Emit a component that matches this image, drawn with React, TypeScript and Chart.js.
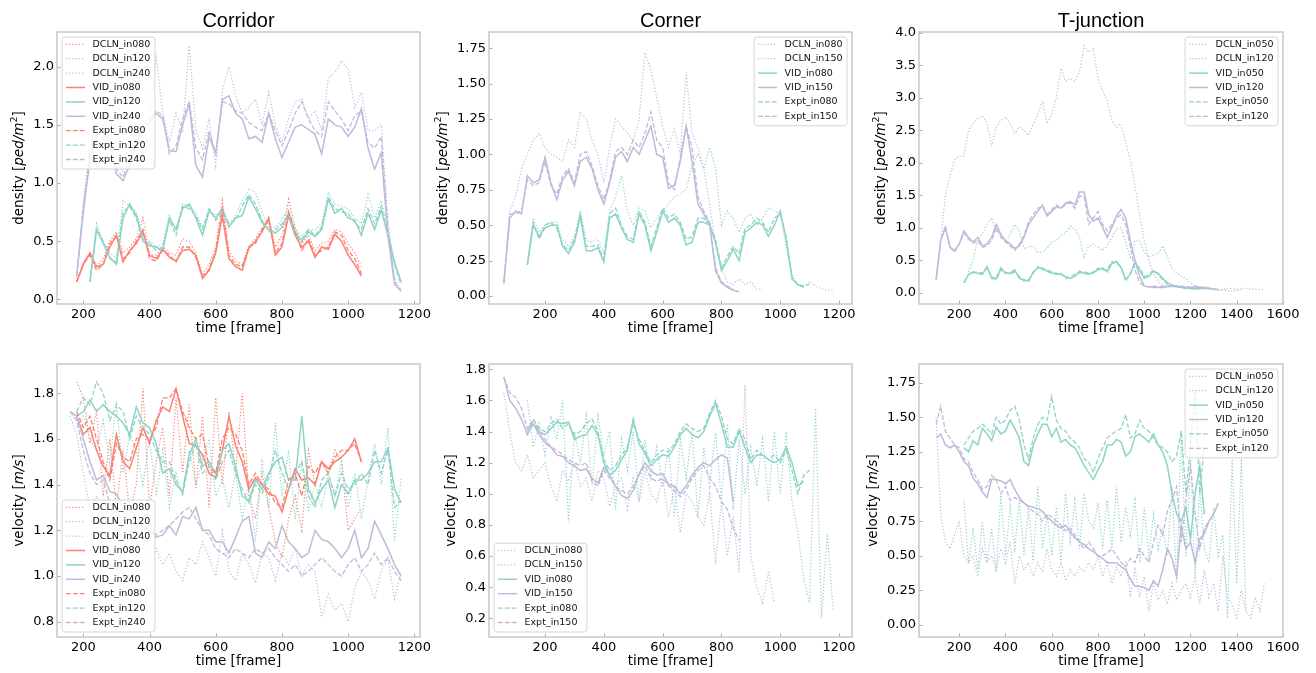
import React, { useEffect, useRef } from 'react';
import { Chart, registerables } from 'chart.js';
Chart.register(...registerables);

const _ = null;
const SALMON = '#fb8072';
const TEAL = '#8dd3c7';
const LAV = '#bebada';

// ---------- frames (x values) ----------
const corridorFrames = [160, 180, 200, 220, 240, 260, 280, 300, 320, 340, 360, 380, 400, 420, 440, 460, 480, 500, 520, 540, 560, 580, 600, 620, 640, 660, 680, 700, 720, 740, 760, 780, 800, 820, 840, 860, 880, 900, 920, 940, 960, 980, 1000, 1020, 1040, 1060, 1080, 1100, 1120, 1140, 1160];
const cornerFrames = [60, 80, 100, 120, 140, 160, 180, 200, 220, 240, 260, 280, 300, 320, 340, 360, 380, 400, 420, 440, 460, 480, 500, 520, 540, 560, 580, 600, 620, 640, 660, 680, 700, 720, 740, 760, 780, 800, 820, 840, 860, 880, 900, 920, 940, 960, 980, 1000, 1020, 1040, 1060, 1080, 1100, 1120, 1140, 1160, 1180, 1200];
const tjFrames = [80, 100, 120, 140, 160, 180, 200, 220, 240, 260, 280, 300, 320, 340, 360, 380, 400, 420, 440, 460, 480, 500, 520, 540, 560, 580, 600, 620, 640, 660, 680, 700, 720, 740, 760, 780, 800, 820, 840, 860, 880, 900, 920, 940, 960, 980, 1000, 1020, 1040, 1060, 1080, 1100, 1120, 1140, 1160, 1180, 1200, 1220, 1240, 1260, 1280, 1300, 1320, 1340, 1360, 1380, 1400, 1420, 1440, 1460, 1480, 1500, 1520];

// ---------- tick values ----------
const xTicksShort = [200, 400, 600, 800, 1000, 1200];
const xTicksLong = [200, 400, 600, 800, 1000, 1200, 1400, 1600];
const yTicksCorrDens = [0, 0.5, 1.0, 1.5, 2.0];
const yTicksCornDens = [0, 0.25, 0.5, 0.75, 1.0, 1.25, 1.5, 1.75];
const yTicksTjDens = [0, 0.5, 1.0, 1.5, 2.0, 2.5, 3.0, 3.5, 4.0];
const yTicksCorrVel = [0.8, 1.0, 1.2, 1.4, 1.6, 1.8];
const yTicksCornVel = [0.2, 0.4, 0.6, 0.8, 1.0, 1.2, 1.4, 1.6, 1.8];
const yTicksTjVel = [0, 0.25, 0.5, 0.75, 1.0, 1.25, 1.5, 1.75];

// ---------- Corridor density ----------
const corrDensDCLN080 = [_, 0.15, 0.32, 0.4, 0.28, 0.35, 0.5, 0.58, 0.4, 0.45, 0.52, 0.7, 0.38, 0.38, 0.45, 0.4, 0.38, 0.52, 0.5, 0.4, 0.22, 0.3, 0.45, 0.85, 0.42, 0.33, 0.3, 0.46, 0.52, 0.62, 0.7, 0.45, 0.55, 0.86, 0.62, 0.48, 0.55, 0.42, 0.48, 0.5, 0.6, 0.58, 0.48, 0.4, 0.28, _, _, _, _, _, _];
const corrDensDCLN120 = [_, _, _, 0.15, 0.65, 0.5, 0.4, 0.35, 0.85, 0.8, 0.75, 0.55, 0.5, 0.45, 0.48, 0.72, 0.6, 0.82, 0.8, 0.75, 0.62, 0.78, 0.72, 0.78, 0.65, 0.72, 0.85, 0.95, 0.92, 0.75, 0.62, 0.62, 0.68, 0.78, 0.6, 0.55, 0.6, 0.6, 0.65, 0.92, 0.82, 0.8, 0.78, 0.7, 0.65, 0.9, 0.7, 0.85, 0.6, 0.32, 0.14];
const corrDensDCLN240 = [_, 0.18, 0.85, 1.3, 1.5, 1.55, 1.4, 1.15, 1.1, 1.25, 1.45, 1.55, 1.6, 2.08, 1.6, 1.35, 1.6, 1.45, 2.18, 1.45, 1.3, 1.55, 1.15, 1.8, 2.0, 1.75, 1.6, 1.65, 1.72, 1.5, 1.78, 1.5, 1.35, 1.55, 1.7, 1.72, 1.55, 1.62, 1.45, 1.9, 1.95, 2.05, 1.98, 1.65, 1.78, 1.45, 1.45, 1.5, 0.7, 0.18, 0.08];
const corrDensVID080 = [_, 0.15, 0.3, 0.4, 0.28, 0.3, 0.45, 0.55, 0.32, 0.42, 0.48, 0.58, 0.38, 0.35, 0.43, 0.36, 0.33, 0.42, 0.43, 0.38, 0.18, 0.25, 0.4, 0.72, 0.35, 0.28, 0.25, 0.44, 0.5, 0.58, 0.7, 0.38, 0.45, 0.72, 0.55, 0.45, 0.5, 0.36, 0.45, 0.43, 0.56, 0.5, 0.38, 0.3, 0.2, _, _, _, _, _, _];
const corrDensVID120 = [_, _, _, 0.15, 0.6, 0.48, 0.36, 0.3, 0.7, 0.82, 0.72, 0.5, 0.46, 0.45, 0.42, 0.7, 0.6, 0.78, 0.82, 0.7, 0.55, 0.76, 0.7, 0.78, 0.62, 0.7, 0.72, 0.88, 0.78, 0.66, 0.6, 0.57, 0.62, 0.74, 0.58, 0.5, 0.58, 0.54, 0.6, 0.86, 0.74, 0.78, 0.7, 0.68, 0.55, 0.74, 0.6, 0.77, 0.55, 0.32, 0.15];
const corrDensVID240 = [_, 0.2, 0.75, 1.2, 1.4, 1.45, 1.3, 1.08, 1.02, 1.15, 1.35, 1.45, 1.52, 1.6, 1.55, 1.28, 1.27, 1.5, 1.68, 1.15, 1.05, 1.4, 1.25, 1.72, 1.75, 1.6, 1.55, 1.38, 1.4, 1.35, 1.6, 1.38, 1.22, 1.35, 1.48, 1.5, 1.46, 1.42, 1.25, 1.55, 1.5, 1.48, 1.4, 1.48, 1.64, 1.3, 1.12, 1.26, 0.55, 0.13, 0.07];
const corrDensExpt080 = [_, 0.15, 0.3, 0.38, 0.25, 0.3, 0.48, 0.55, 0.35, 0.4, 0.5, 0.6, 0.35, 0.33, 0.42, 0.38, 0.32, 0.45, 0.45, 0.36, 0.2, 0.26, 0.42, 0.78, 0.38, 0.3, 0.28, 0.45, 0.48, 0.6, 0.68, 0.4, 0.48, 0.75, 0.58, 0.42, 0.52, 0.38, 0.42, 0.45, 0.58, 0.55, 0.42, 0.35, 0.22, _, _, _, _, _, _];
const corrDensExpt120 = [_, _, _, 0.15, 0.6, 0.5, 0.35, 0.32, 0.75, 0.8, 0.7, 0.52, 0.48, 0.42, 0.45, 0.68, 0.55, 0.8, 0.78, 0.72, 0.6, 0.78, 0.68, 0.75, 0.65, 0.68, 0.8, 0.9, 0.82, 0.68, 0.58, 0.6, 0.65, 0.72, 0.55, 0.52, 0.6, 0.55, 0.62, 0.88, 0.78, 0.75, 0.74, 0.66, 0.6, 0.78, 0.65, 0.8, 0.55, 0.3, 0.13];
const corrDensExpt240 = [_, 0.2, 0.8, 1.25, 1.45, 1.5, 1.35, 1.12, 1.05, 1.2, 1.4, 1.5, 1.55, 1.62, 1.58, 1.25, 1.32, 1.55, 1.7, 1.3, 1.2, 1.45, 1.25, 1.7, 1.68, 1.62, 1.6, 1.52, 1.48, 1.45, 1.6, 1.45, 1.32, 1.45, 1.6, 1.7, 1.55, 1.45, 1.4, 1.7, 1.62, 1.55, 1.45, 1.58, 1.62, 1.35, 1.3, 1.4, 0.6, 0.15, 0.07];

// ---------- Corner density ----------
const cornDensDCLN080 = [_, _, _, _, 0.22, 0.55, 0.45, 0.5, 0.52, 0.52, 0.4, 0.35, 0.42, 0.6, 0.4, 0.38, 0.4, 0.3, 0.6, 0.7, 0.85, 0.6, 0.5, 0.62, 0.6, 0.48, 0.55, 0.6, 0.65, 0.7, 0.72, 0.75, 0.92, 1.0, 0.9, 1.05, 0.9, 0.5, 0.6, 0.55, 0.45, 0.55, 0.58, 0.5, 0.55, 0.62, 0.6, 0.58, 0.35, 0.15, 0.08, 0.07, 0.1, 0.07, 0.05, 0.04, 0.04, _];
const cornDensDCLN150 = [0.1, 0.6, 0.7, 0.9, 1.0, 1.1, 1.15, 1.05, 1.0, 0.98, 0.95, 1.1, 1.05, 1.3, 1.25, 1.1, 1.0, 0.8, 1.05, 1.25, 1.2, 1.15, 1.1, 1.25, 1.72, 1.6, 1.4, 1.2, 1.05, 1.18, 1.0, 1.58, 1.15, 1.05, 0.9, 0.65, 0.35, 0.2, 0.1, 0.08, 0.12, 0.08, 0.1, 0.05, 0.04, _, _, _, _, _, _, _, _, _, _, _, _, _];
const cornDensVID080 = [_, _, _, _, 0.22, 0.5, 0.42, 0.48, 0.5, 0.5, 0.35, 0.3, 0.38, 0.56, 0.32, 0.32, 0.34, 0.24, 0.55, 0.58, 0.48, 0.4, 0.38, 0.58, 0.5, 0.32, 0.45, 0.6, 0.52, 0.55, 0.5, 0.36, 0.38, 0.52, 0.52, 0.5, 0.38, 0.18, 0.25, 0.33, 0.25, 0.45, 0.48, 0.52, 0.5, 0.42, 0.5, 0.6, 0.4, 0.12, 0.08, 0.06, _, _, _, _, _, _];
const cornDensVID150 = [0.09, 0.55, 0.6, 0.58, 0.85, 0.8, 0.82, 0.98, 0.8, 0.68, 0.82, 0.88, 0.78, 0.95, 0.98, 0.9, 0.75, 0.65, 0.8, 0.98, 1.02, 0.95, 1.05, 1.0, 1.1, 1.2, 1.0, 0.98, 0.76, 0.78, 0.95, 1.2, 0.95, 0.65, 0.58, 0.5, 0.18, 0.09, 0.06, 0.04, 0.03, _, _, _, _, _, _, _, _, _, _, _, _, _, _, _, _, _];
const cornDensExpt080 = [_, _, _, _, 0.22, 0.52, 0.4, 0.5, 0.52, 0.48, 0.36, 0.32, 0.4, 0.58, 0.35, 0.35, 0.36, 0.26, 0.58, 0.62, 0.5, 0.42, 0.4, 0.6, 0.52, 0.35, 0.48, 0.62, 0.55, 0.58, 0.52, 0.4, 0.42, 0.55, 0.55, 0.5, 0.4, 0.2, 0.28, 0.35, 0.3, 0.48, 0.5, 0.55, 0.52, 0.45, 0.55, 0.58, 0.42, 0.13, 0.08, 0.07, 0.08, _, _, _, _, _];
const cornDensExpt150 = [0.09, 0.58, 0.58, 0.6, 0.82, 0.78, 0.8, 0.95, 0.78, 0.72, 0.85, 0.9, 0.8, 1.0, 1.02, 0.92, 0.78, 0.68, 0.82, 1.02, 1.05, 1.0, 1.1, 1.05, 1.15, 1.3, 1.1, 1.05, 0.8, 0.75, 0.98, 1.2, 1.05, 0.7, 0.6, 0.52, 0.2, 0.1, 0.07, 0.05, _, _, _, _, _, _, _, _, _, _, _, _, _, _, _, _, _, _];

// ---------- T-junction density ----------
const tjDensDCLN050 = [_, _, _, _, _, _, _, _, 0.32, 0.5, 0.82, 0.9, 1.05, 1.15, 0.95, 0.9, 0.78, 0.9, 1.05, 0.95, 0.68, 0.7, 0.72, 0.62, 0.62, 0.68, 0.78, 0.8, 0.88, 0.92, 1.02, 0.98, 0.85, 0.55, 0.72, 0.75, 0.7, 0.65, 0.72, 0.85, 0.98, 1.0, 0.78, 0.52, 0.8, 0.8, 0.62, 0.55, 0.58, 0.6, 0.72, 0.55, 0.38, 0.3, 0.25, 0.22, 0.15, 0.1, 0.08, 0.07, 0.06, 0.05, 0.04, 0.04, 0.03, 0.02, 0.04, 0.04, _, _, _, _, _];
const tjDensDCLN120 = [_, 0.2, 0.8, 1.5, 1.8, 2.05, 2.1, 2.1, 2.5, 2.6, 2.68, 2.72, 2.6, 2.25, 2.55, 2.65, 2.7, 2.6, 2.45, 2.55, 2.5, 2.42, 2.6, 2.75, 2.95, 2.6, 2.75, 3.0, 3.45, 3.25, 3.3, 3.25, 3.4, 3.8, 3.7, 3.75, 3.3, 3.1, 2.95, 2.65, 2.55, 2.6, 2.3, 2.05, 1.65, 1.2, 0.8, 0.5, 0.3, 0.18, 0.12, 0.1, 0.09, 0.08, 0.09, 0.1, 0.08, 0.07, 0.09, 0.1, 0.07, 0.05, 0.04, 0.05, 0.07, 0.06, 0.05, 0.06, 0.07, 0.05, 0.06, 0.05, 0.05];
const tjDensVID050 = [_, _, _, _, _, _, _, 0.15, 0.28, 0.32, 0.3, 0.28, 0.4, 0.22, 0.22, 0.38, 0.3, 0.3, 0.35, 0.22, 0.2, 0.18, 0.32, 0.38, 0.38, 0.33, 0.3, 0.3, 0.28, 0.25, 0.22, 0.25, 0.33, 0.3, 0.28, 0.32, 0.35, 0.38, 0.32, 0.45, 0.48, 0.38, 0.2, 0.28, 0.48, 0.35, 0.22, 0.25, 0.33, 0.3, 0.22, 0.15, 0.12, 0.1, 0.08, 0.07, 0.07, 0.06, 0.06, 0.07, 0.07, _, _, _, _, _, _, _, _, _, _, _, _];
const tjDensVID120 = [_, 0.2, 0.8, 1.0, 0.7, 0.65, 0.75, 0.95, 0.85, 0.78, 0.85, 0.72, 0.75, 0.85, 1.05, 0.9, 0.8, 0.75, 0.68, 0.72, 0.85, 1.05, 1.15, 1.25, 1.35, 1.18, 1.25, 1.32, 1.3, 1.38, 1.4, 1.35, 1.55, 1.55, 1.2, 1.1, 1.15, 1.0, 0.85, 1.0, 1.18, 1.28, 1.15, 0.8, 0.5, 0.25, 0.1, 0.09, 0.08, 0.08, 0.08, 0.09, 0.1, 0.1, 0.09, 0.08, 0.08, 0.09, 0.08, 0.07, 0.07, 0.06, 0.05, _, _, _, _, _, _, _, _, _, _];
const tjDensExpt050 = [_, _, _, _, _, _, _, 0.15, 0.28, 0.3, 0.32, 0.3, 0.38, 0.25, 0.2, 0.35, 0.32, 0.28, 0.32, 0.25, 0.18, 0.2, 0.3, 0.4, 0.35, 0.35, 0.32, 0.28, 0.3, 0.22, 0.25, 0.28, 0.3, 0.32, 0.3, 0.3, 0.38, 0.35, 0.35, 0.48, 0.45, 0.4, 0.18, 0.3, 0.45, 0.38, 0.25, 0.28, 0.35, 0.28, 0.2, 0.13, 0.1, 0.09, 0.08, 0.07, 0.06, 0.06, 0.07, 0.06, 0.07, _, _, _, _, _, _, _, _, _, _, _, _];
const tjDensExpt120 = [_, 0.2, 0.82, 1.02, 0.7, 0.62, 0.75, 0.92, 0.82, 0.76, 0.8, 0.7, 0.72, 0.8, 1.0, 0.85, 0.78, 0.72, 0.65, 0.75, 0.88, 1.1, 1.2, 1.3, 1.32, 1.2, 1.28, 1.35, 1.3, 1.35, 1.38, 1.3, 1.48, 1.48, 1.05, 1.15, 1.25, 1.05, 0.95, 1.05, 1.15, 1.2, 1.05, 0.7, 0.35, 0.15, 0.1, 0.09, 0.1, 0.09, 0.1, 0.1, 0.11, 0.1, 0.1, 0.09, 0.08, 0.1, 0.09, 0.07, 0.06, 0.06, _, _, _, _, _, _, _, _, _, _, _];

// ---------- Corridor velocity ----------
const corrVelDCLN080 = [_, 1.85, 1.78, 1.58, 1.72, 1.35, 1.6, 1.3, 1.55, 1.28, 1.4, 1.82, 1.3, 1.5, 1.65, 1.35, 1.78, 1.45, 1.75, 1.38, 1.7, 1.3, 1.78, 1.4, 1.72, 1.45, 1.8, 1.35, 1.25, 1.45, 1.3, 1.15, 1.08, 1.25, 1.35, 1.2, 1.55, 1.4, 1.5, 1.45, 1.55, 1.5, 1.2, 1.25, 1.3, _, _, _, _, _, _];
const corrVelDCLN120 = [_, 1.65, 1.7, 1.6, 1.55, 1.68, 1.5, 1.75, 1.45, 1.62, 1.55, 1.4, 1.6, 1.35, 1.55, 1.3, 1.45, 1.35, 1.55, 1.4, 1.5, 1.6, 1.35, 1.42, 1.3, 1.45, 1.25, 1.4, 1.15, 1.5, 1.3, 1.67, 1.35, 1.55, 1.25, 1.5, 1.28, 1.4, 1.3, 1.45, 1.35, 1.5, 1.3, 1.45, 1.25, 1.42, 1.58, 1.4, 1.65, 1.15, 1.43];
const corrVelDCLN240 = [1.7, 1.62, 1.45, 1.3, 1.35, 1.25, 1.3, 1.2, 1.15, 1.2, 1.1, 1.15, 1.02, 1.12, 1.05, 1.1, 1.02, 0.98, 1.08, 1.05, 1.15, 1.08, 1.0, 1.2, 1.02, 0.98, 1.1, 1.05, 0.97, 1.1, 1.08, 0.98, 1.1, 1.05, 1.12, 1.0, 1.05, 1.02, 0.82, 0.92, 0.85, 0.88, 0.8, 0.95, 1.02, 0.98, 0.9, 1.02, 1.08, 0.9, 1.02];
const corrVelVID080 = [_, 1.7, 1.62, 1.65, 1.55, 1.48, 1.44, 1.62, 1.5, 1.47, 1.56, 1.65, 1.58, 1.68, 1.74, 1.72, 1.82, 1.7, 1.58, 1.57, 1.53, 1.45, 1.43, 1.55, 1.7, 1.57, 1.5, 1.38, 1.43, 1.4, 1.36, 1.35, 1.28, 1.38, 1.47, 1.42, 1.43, 1.4, 1.5, 1.47, 1.5, 1.52, 1.55, 1.6, 1.5, _, _, _, _, _, _];
const corrVelVID120 = [_, 1.7, 1.72, 1.77, 1.72, 1.75, 1.72, 1.7, 1.67, 1.62, 1.74, 1.67, 1.65, 1.58, 1.45, 1.47, 1.4, 1.37, 1.53, 1.6, 1.48, 1.5, 1.45, 1.55, 1.58, 1.48, 1.35, 1.33, 1.42, 1.38, 1.45, 1.5, 1.52, 1.42, 1.42, 1.7, 1.38, 1.32, 1.38, 1.42, 1.3, 1.4, 1.36, 1.42, 1.42, 1.45, 1.5, 1.5, 1.56, 1.38, 1.32];
const corrVelVID240 = [1.72, 1.7, 1.6, 1.5, 1.42, 1.44, 1.37, 1.36, 1.3, 1.3, 1.25, 1.22, 1.2, 1.17, 1.18, 1.22, 1.18, 1.26, 1.25, 1.3, 1.2, 1.2, 1.15, 1.15, 1.1, 1.17, 1.24, 1.26, 1.1, 1.08, 1.15, 1.12, 1.22, 1.15, 1.12, 1.08, 1.1, 1.2, 1.16, 1.15, 1.12, 1.08, 1.12, 1.2, 1.08, 1.12, 1.24, 1.18, 1.12, 1.05, 1.0];
const corrVelExpt080 = [_, 1.72, 1.65, 1.7, 1.6, 1.5, 1.42, 1.58, 1.52, 1.5, 1.6, 1.62, 1.6, 1.65, 1.78, 1.78, 1.82, 1.72, 1.65, 1.6, 1.62, 1.48, 1.45, 1.6, 1.65, 1.62, 1.55, 1.4, 1.45, 1.4, 1.38, 1.32, 1.3, 1.42, 1.45, 1.35, 1.48, 1.45, 1.5, 1.45, 1.52, 1.55, 1.55, 1.58, 1.5, _, _, _, _, _, _];
const corrVelExpt120 = [_, 1.72, 1.78, 1.75, 1.85, 1.8, 1.68, 1.75, 1.72, 1.6, 1.7, 1.65, 1.62, 1.55, 1.5, 1.5, 1.42, 1.36, 1.5, 1.58, 1.45, 1.48, 1.42, 1.5, 1.55, 1.45, 1.38, 1.32, 1.4, 1.36, 1.43, 1.55, 1.45, 1.38, 1.45, 1.5, 1.35, 1.3, 1.42, 1.45, 1.35, 1.45, 1.38, 1.4, 1.45, 1.4, 1.55, 1.45, 1.55, 1.3, 1.33];
const corrVelExpt240 = [1.72, 1.68, 1.55, 1.45, 1.4, 1.42, 1.32, 1.3, 1.28, 1.25, 1.22, 1.2, 1.2, 1.18, 1.2, 1.22, 1.25, 1.28, 1.3, 1.25, 1.2, 1.18, 1.12, 1.1, 1.08, 1.12, 1.1, 1.08, 1.12, 1.1, 1.12, 1.08, 1.05, 1.02, 1.05, 1.0, 1.02, 1.05, 1.08, 1.05, 1.02, 1.0, 1.05, 1.08, 1.02, 1.05, 1.1, 1.05, 1.08, 1.02, 0.98];

// ---------- Corner velocity ----------
const cornVelDCLN080 = [_, _, _, _, 1.6, 1.3, 1.45, 1.25, 1.5, 1.35, 1.6, 0.82, 1.4, 1.2, 1.5, 1.05, 1.5, 1.25, 1.4, 0.9, 1.35, 1.15, 1.4, 0.95, 1.35, 1.1, 1.3, 1.05, 1.3, 0.85, 1.35, 1.1, 1.4, 0.85, 1.3, 1.05, 1.4, 0.95, 1.45, 0.9, 1.35, 1.0, 1.3, 1.05, 1.35, 0.95, 1.4, 1.0, 1.4, 0.95, 0.75, 0.45, 0.3, 1.55, 0.2, 0.75, 0.25, _];
const cornVelDCLN150 = [1.65, 1.4, 1.2, 1.15, 1.25, 1.1, 1.15, 1.2, 1.05, 0.95, 1.15, 1.08, 1.2, 1.05, 1.1, 0.95, 1.15, 1.1, 0.92, 1.05, 1.1, 0.9, 1.1, 0.95, 1.15, 1.0, 0.95, 1.1, 0.85, 1.05, 0.75, 1.0, 0.95, 0.85, 0.8, 1.0, 0.55, 0.95, 0.6, 0.85, 0.5, 1.7, 0.6, 0.4, 0.3, 0.5, 0.3, _, _, _, _, _, _, _, _, _, _, _];
const cornVelVID080 = [_, _, _, _, 1.42, 1.45, 1.4, 1.38, 1.42, 1.46, 1.45, 1.46, 1.35, 1.37, 1.38, 1.44, 1.38, 1.2, 1.12, 1.15, 1.22, 1.28, 1.48, 1.32, 1.26, 1.18, 1.22, 1.25, 1.24, 1.3, 1.38, 1.42, 1.38, 1.36, 1.4, 1.5, 1.58, 1.45, 1.3, 1.3, 1.4, 1.3, 1.2, 1.25, 1.25, 1.22, 1.2, 1.22, 1.3, 1.2, 1.05, 1.08, _, _, _, _, _, _];
const cornVelVID150 = [1.75, 1.6, 1.55, 1.48, 1.38, 1.45, 1.38, 1.33, 1.3, 1.25, 1.24, 1.2, 1.18, 1.15, 1.16, 1.1, 1.07, 1.17, 1.12, 1.05, 0.99, 0.97, 1.02, 1.13, 1.2, 1.15, 1.12, 1.13, 1.06, 1.05, 1.0, 1.05, 1.12, 1.17, 1.2, 1.18, 1.22, 1.25, 1.23, 0.95, _, _, _, _, _, _, _, _, _, _, _, _, _, _, _, _, _, _];
const cornVelExpt080 = [_, _, _, _, 1.4, 1.48, 1.42, 1.4, 1.45, 1.48, 1.42, 1.45, 1.38, 1.4, 1.45, 1.48, 1.4, 1.22, 1.15, 1.18, 1.25, 1.3, 1.45, 1.35, 1.28, 1.2, 1.25, 1.28, 1.27, 1.32, 1.4, 1.45, 1.42, 1.4, 1.42, 1.52, 1.6, 1.5, 1.35, 1.32, 1.42, 1.35, 1.22, 1.28, 1.25, 1.22, 1.25, 1.2, 1.28, 1.15, 1.0, 1.12, 1.15, _, _, _, _, _];
const cornVelExpt150 = [1.75, 1.65, 1.62, 1.55, 1.42, 1.48, 1.4, 1.35, 1.3, 1.28, 1.25, 1.22, 1.2, 1.18, 1.2, 1.08, 1.05, 1.15, 1.1, 1.05, 1.02, 1.0, 1.05, 1.12, 1.18, 1.1, 1.08, 1.1, 1.05, 1.02, 0.98, 1.02, 1.1, 1.15, 1.18, 1.1, 1.05, 0.95, 0.9, 0.78, 0.7, _, _, _, _, _, _, _, _, _, _, _, _, _, _, _, _, _];

// ---------- T-junction velocity ----------
const tjVelDCLN050 = [_, _, _, _, _, _, _, 0.9, 0.45, 0.7, 0.4, 0.75, 0.45, 0.7, 0.38, 0.95, 0.5, 0.85, 0.55, 0.9, 0.5, 0.85, 0.45, 1.0, 0.55, 0.8, 0.5, 0.85, 0.45, 0.95, 0.6, 0.9, 0.55, 0.95, 0.75, 0.7, 0.88, 0.55, 0.9, 0.55, 1.0, 0.6, 0.85, 0.65, 0.9, 0.45, 0.85, 0.5, 0.8, 0.55, 0.7, 0.5, 1.0, 0.3, 1.4, 0.5, 1.2, 0.35, 1.0, 0.55, 0.45, 0.85, 0.5, 0.65, 0.05, 1.2, 0.3, 1.2, 0.1, _, _, _, _];
const tjVelDCLN120 = [_, 1.5, 0.8, 0.6, 0.55, 0.65, 0.75, 0.5, 0.45, 0.5, 0.35, 0.55, 0.45, 0.5, 0.4, 0.55, 0.45, 0.6, 0.3, 0.5, 0.4, 0.45, 0.35, 0.45, 0.38, 0.55, 0.4, 0.35, 0.45, 0.32, 0.4, 0.35, 0.42, 0.38, 0.45, 0.4, 0.5, 0.35, 0.45, 0.3, 0.42, 0.35, 0.45, 0.22, 0.4, 0.2, 0.35, 0.1, 0.3, 0.18, 0.25, 0.15, 0.3, 0.18, 0.25, 0.3, 0.2, 0.35, 0.15, 0.4, 0.2, 0.3, 0.1, 0.5, 0.2, 0.15, 0.05, 0.25, 0.1, 0.05, 0.2, 0.1, 0.3];
const tjVelVID050 = [_, _, _, _, _, _, _, 1.28, 1.25, 1.33, 1.3, 1.42, 1.38, 1.33, 1.43, 1.38, 1.4, 1.48, 1.42, 1.35, 1.18, 1.15, 1.3, 1.38, 1.45, 1.45, 1.36, 1.42, 1.32, 1.34, 1.3, 1.28, 1.22, 1.15, 1.1, 1.05, 1.12, 1.18, 1.3, 1.3, 1.34, 1.32, 1.22, 1.25, 1.36, 1.38, 1.35, 1.32, 1.38, 1.3, 1.25, 1.15, 0.95, 0.8, 0.75, 0.85, 0.62, 0.95, 1.15, 0.8, _, _, _, _, _, _, _, _, _, _, _, _, _];
const tjVelVID120 = [_, 1.35, 1.38, 1.3, 1.28, 1.3, 1.25, 1.18, 1.15, 1.06, 1.02, 0.96, 0.92, 1.05, 1.05, 1.04, 1.02, 1.05, 0.98, 0.92, 0.88, 0.86, 0.85, 0.84, 0.82, 0.78, 0.75, 0.72, 0.7, 0.72, 0.67, 0.63, 0.6, 0.58, 0.55, 0.53, 0.5, 0.48, 0.45, 0.45, 0.45, 0.42, 0.4, 0.33, 0.28, 0.28, 0.27, 0.25, 0.32, 0.28, 0.4, 0.55, 0.48, 0.35, 0.72, 0.55, 0.6, 0.45, 0.62, 0.66, 0.75, 0.8, 0.88, _, _, _, _, _, _, _, _, _, _];
const tjVelExpt050 = [_, _, _, _, _, _, _, 1.3, 1.35, 1.4, 1.42, 1.45, 1.42, 1.38, 1.5, 1.45, 1.48, 1.55, 1.58, 1.48, 1.3, 1.2, 1.35, 1.45, 1.5, 1.48, 1.65, 1.48, 1.42, 1.4, 1.35, 1.32, 1.28, 1.2, 1.18, 1.1, 1.2, 1.28, 1.35, 1.38, 1.4, 1.42, 1.52, 1.35, 1.38, 1.48, 1.42, 1.4, 1.35, 1.3, 1.28, 1.25, 1.18, 1.22, 1.4, 0.95, 1.3, 1.7, 0.95, 1.3, _, _, _, _, _, _, _, _, _, _, _, _, _];
const tjVelExpt120 = [_, 1.45, 1.58, 1.4, 1.35, 1.3, 1.28, 1.2, 1.18, 1.1, 1.05, 0.98, 1.0, 1.08, 1.05, 0.95, 1.0, 0.9, 0.92, 0.9, 0.88, 0.85, 0.82, 0.8, 0.75, 0.8, 0.78, 0.75, 0.72, 0.68, 0.7, 0.65, 0.6, 0.55, 0.6, 0.55, 0.5, 0.5, 0.52, 0.55, 0.5, 0.45, 0.42, 0.48, 0.45, 0.55, 0.5, 0.45, 0.6, 0.72, 0.65, 0.82, 0.9, 1.0, 0.6, 0.9, 1.15, 0.8, 0.55, 0.7, 0.75, 0.8, _, _, _, _, _, _, _, _, _, _, _];

// ---------- panel definitions ----------
type Style = 'dot' | 'solid' | 'dash';
type Series = { label: string; values: (number | null)[]; color: string; style: Style };
type Panel = {
  title?: string;
  yKind: 'density' | 'velocity';
  frames: number[];
  series: Series[];
  canvas: [number, number, number, number];
  area: [number, number, number, number];
  xRange: [number, number];
  yRange: [number, number];
  xTicks: number[];
  yTicks: number[];
  yDec: number;
  legend: 'ul' | 'ur' | 'll';
};

const S = (label: string, values: (number | null)[], color: string, style: Style): Series => ({ label, values, color, style });

const panels: Panel[] = [
  {
    title: 'Corridor', yKind: 'density', frames: corridorFrames,
    series: [
      S('DCLN_in080', corrDensDCLN080, SALMON, 'dot'), S('DCLN_in120', corrDensDCLN120, TEAL, 'dot'), S('DCLN_in240', corrDensDCLN240, LAV, 'dot'),
      S('VID_in080', corrDensVID080, SALMON, 'solid'), S('VID_in120', corrDensVID120, TEAL, 'solid'), S('VID_in240', corrDensVID240, LAV, 'solid'),
      S('Expt_in080', corrDensExpt080, SALMON, 'dash'), S('Expt_in120', corrDensExpt120, TEAL, 'dash'), S('Expt_in240', corrDensExpt240, LAV, 'dash'),
    ],
    canvas: [0, 0, 440, 340], area: [57, 32, 420, 304], xRange: [120.5, 1217], yRange: [-0.04, 2.298],
    xTicks: xTicksShort, yTicks: yTicksCorrDens, yDec: 1, legend: 'ul',
  },
  {
    title: 'Corner', yKind: 'density', frames: cornerFrames,
    series: [
      S('DCLN_in080', cornDensDCLN080, TEAL, 'dot'), S('DCLN_in150', cornDensDCLN150, LAV, 'dot'),
      S('VID_in080', cornDensVID080, TEAL, 'solid'), S('VID_in150', cornDensVID150, LAV, 'solid'),
      S('Expt_in080', cornDensExpt080, TEAL, 'dash'), S('Expt_in150', cornDensExpt150, LAV, 'dash'),
    ],
    canvas: [428, 0, 440, 340], area: [489, 32, 852, 304], xRange: [9.5, 1244], yRange: [-0.057, 1.865],
    xTicks: xTicksShort, yTicks: yTicksCornDens, yDec: 2, legend: 'ur',
  },
  {
    title: 'T-junction', yKind: 'density', frames: tjFrames,
    series: [
      S('DCLN_in050', tjDensDCLN050, TEAL, 'dot'), S('DCLN_in120', tjDensDCLN120, LAV, 'dot'),
      S('VID_in050', tjDensVID050, TEAL, 'solid'), S('VID_in120', tjDensVID120, LAV, 'solid'),
      S('Expt_in050', tjDensExpt050, TEAL, 'dash'), S('Expt_in120', tjDensExpt120, LAV, 'dash'),
    ],
    canvas: [860, 0, 456, 340], area: [919, 32, 1283, 304], xRange: [26, 1600], yRange: [-0.174, 4.01],
    xTicks: xTicksLong, yTicks: yTicksTjDens, yDec: 1, legend: 'ur',
  },
  {
    yKind: 'velocity', frames: corridorFrames,
    series: [
      S('DCLN_in080', corrVelDCLN080, SALMON, 'dot'), S('DCLN_in120', corrVelDCLN120, TEAL, 'dot'), S('DCLN_in240', corrVelDCLN240, LAV, 'dot'),
      S('VID_in080', corrVelVID080, SALMON, 'solid'), S('VID_in120', corrVelVID120, TEAL, 'solid'), S('VID_in240', corrVelVID240, LAV, 'solid'),
      S('Expt_in080', corrVelExpt080, SALMON, 'dash'), S('Expt_in120', corrVelExpt120, TEAL, 'dash'), S('Expt_in240', corrVelExpt240, LAV, 'dash'),
    ],
    canvas: [0, 340, 440, 333], area: [57, 364, 420, 637], xRange: [120.5, 1217], yRange: [0.733, 1.928],
    xTicks: xTicksShort, yTicks: yTicksCorrVel, yDec: 1, legend: 'll',
  },
  {
    yKind: 'velocity', frames: cornerFrames,
    series: [
      S('DCLN_in080', cornVelDCLN080, TEAL, 'dot'), S('DCLN_in150', cornVelDCLN150, LAV, 'dot'),
      S('VID_in080', cornVelVID080, TEAL, 'solid'), S('VID_in150', cornVelVID150, LAV, 'solid'),
      S('Expt_in080', cornVelExpt080, TEAL, 'dash'), S('Expt_in150', cornVelExpt150, LAV, 'dash'),
    ],
    canvas: [428, 340, 440, 333], area: [489, 364, 852, 637], xRange: [9.5, 1244], yRange: [0.08, 1.834],
    xTicks: xTicksShort, yTicks: yTicksCornVel, yDec: 1, legend: 'll',
  },
  {
    yKind: 'velocity', frames: tjFrames,
    series: [
      S('DCLN_in050', tjVelDCLN050, TEAL, 'dot'), S('DCLN_in120', tjVelDCLN120, LAV, 'dot'),
      S('VID_in050', tjVelVID050, TEAL, 'solid'), S('VID_in120', tjVelVID120, LAV, 'solid'),
      S('Expt_in050', tjVelExpt050, TEAL, 'dash'), S('Expt_in120', tjVelExpt120, LAV, 'dash'),
    ],
    canvas: [860, 340, 456, 333], area: [919, 364, 1283, 637], xRange: [26, 1600], yRange: [-0.087, 1.885],
    xTicks: xTicksLong, yTicks: yTicksTjVel, yDec: 2, legend: 'ur',
  },
];

const FONT = '"DejaVu Sans", sans-serif';
const dashOf = (s: Style) => (s === 'dot' ? [1.2, 2] : s === 'dash' ? [4.8, 2.1] : []);
const widthOf = (s: Style) => (s === 'dot' ? 1.2 : s === 'dash' ? 1.3 : 1.5);

function makeDecor(p: Panel) {
  return {
    id: 'decor',
    afterDraw(chart: any) {
      const ctx: CanvasRenderingContext2D = chart.ctx;
      const a = chart.chartArea;
      const xs = chart.scales.x;
      const ys = chart.scales.y;
      ctx.save();
      // inward tick marks
      ctx.strokeStyle = '#a8a8a8';
      ctx.lineWidth = 1;
      ctx.setLineDash([]);
      p.xTicks.forEach((v) => {
        const px = Math.round(xs.getPixelForValue(v)) + 0.5;
        ctx.beginPath(); ctx.moveTo(px, a.bottom); ctx.lineTo(px, a.bottom - 3.5); ctx.stroke();
      });
      p.yTicks.forEach((v) => {
        const py = Math.round(ys.getPixelForValue(v)) + 0.5;
        ctx.beginPath(); ctx.moveTo(a.left, py); ctx.lineTo(a.left + 3.5, py); ctx.stroke();
      });
      // frame
      ctx.strokeStyle = '#c8c8c8';
      ctx.lineWidth = 1.5;
      ctx.strokeRect(a.left, a.top, a.right - a.left, a.bottom - a.top);

      const cx = (a.left + a.right) / 2;
      ctx.fillStyle = '#000';
      // title
      if (p.title) {
        ctx.font = '20px "Liberation Sans", Arial, sans-serif';
        ctx.textAlign = 'center';
        ctx.textBaseline = 'alphabetic';
        ctx.fillText(p.title, cx, a.top - 5.5);
      }
      // x label
      ctx.font = '13.5px ' + FONT;
      ctx.textAlign = 'center';
      ctx.textBaseline = 'alphabetic';
      ctx.fillText('time [frame]', cx, a.bottom + 28);
      // y label (mixed styles)
      ctx.font = '13px ' + FONT;
      const tickW = Math.max(...p.yTicks.map((v) => ctx.measureText(v.toFixed(p.yDec)).width));
      const lx = a.left - 3 - tickW - 14;
      const cy = (a.top + a.bottom) / 2;
      const segs = p.yKind === 'density'
        ? [
            { t: 'density [', f: '13.5px ' + FONT, dy: 0 },
            { t: 'ped/m', f: 'italic 13.5px ' + FONT, dy: 0 },
            { t: '2', f: '9.5px ' + FONT, dy: -5 },
            { t: ']', f: '13.5px ' + FONT, dy: 0 },
          ]
        : [
            { t: 'velocity [', f: '13.5px ' + FONT, dy: 0 },
            { t: 'm/s', f: 'italic 13.5px ' + FONT, dy: 0 },
            { t: ']', f: '13.5px ' + FONT, dy: 0 },
          ];
      let total = 0;
      const widths = segs.map((s) => { ctx.font = s.f; const w = ctx.measureText(s.t).width; total += w; return w; });
      ctx.translate(lx, cy);
      ctx.rotate(-Math.PI / 2);
      ctx.textAlign = 'left';
      ctx.textBaseline = 'middle';
      let off = -total / 2;
      segs.forEach((s, i) => { ctx.font = s.f; ctx.fillText(s.t, off, s.dy); off += widths[i]; });
      ctx.setTransform(1, 0, 0, 1, 0, 0);

      // legend
      ctx.font = '9.5px ' + FONT;
      const tw = Math.max(...p.series.map((s) => ctx.measureText(s.label).width));
      const bw = 30.5 + tw + 4.5;
      const bh = p.series.length * 14.4 + 2.4;
      let bx = a.left + 5;
      let by = a.top + 5;
      if (p.legend === 'ur') bx = a.right - 5 - bw;
      if (p.legend === 'll') by = a.bottom - 5 - bh;
      ctx.fillStyle = 'rgba(255,255,255,0.8)';
      ctx.strokeStyle = '#d6d6d6';
      ctx.lineWidth = 1;
      ctx.beginPath();
      if ((ctx as any).roundRect) (ctx as any).roundRect(bx, by, bw, bh, 3);
      else ctx.rect(bx, by, bw, bh);
      ctx.fill();
      ctx.stroke();
      p.series.forEach((s, i) => {
        const yy = by + 7.3 + i * 14.4;
        ctx.strokeStyle = s.color;
        ctx.lineWidth = widthOf(s.style);
        ctx.setLineDash(dashOf(s.style));
        ctx.beginPath(); ctx.moveTo(bx + 4, yy); ctx.lineTo(bx + 23, yy); ctx.stroke();
        ctx.setLineDash([]);
        ctx.fillStyle = '#111';
        ctx.textAlign = 'left';
        ctx.textBaseline = 'middle';
        ctx.fillText(s.label, bx + 30.5, yy);
      });
      ctx.restore();
    },
  };
}

function PanelChart({ p }: { p: Panel }) {
  const ref = useRef<HTMLCanvasElement | null>(null);
  useEffect(() => {
    const el = ref.current;
    if (!el) return;
    const [cx, cy, cw, ch] = p.canvas;
    const [al, at, ar, ab] = p.area;
    const chart = new Chart(el, {
      type: 'line',
      data: {
        datasets: p.series.map((s, i) => ({
          label: s.label,
          data: p.frames
            .map((f, k) => ({ x: f, y: s.values[k] }))
            .filter((d) => d.y !== null && d.y !== undefined) as any,
          borderColor: s.color,
          backgroundColor: s.color,
          borderWidth: widthOf(s.style),
          borderDash: dashOf(s.style),
          pointRadius: 0,
          tension: 0,
          fill: false,
          order: -i,
        })),
      },
      options: {
        responsive: false,
        animation: false,
        events: [],
        layout: {
          autoPadding: false,
          padding: { left: 0, top: at - cy, right: cx + cw - ar, bottom: 0 },
        } as any,
        plugins: { legend: { display: false }, tooltip: { enabled: false }, title: { display: false } },
        scales: {
          x: {
            type: 'linear',
            min: p.xRange[0],
            max: p.xRange[1],
            afterFit: (sc: any) => { sc.height = cy + ch - ab; },
            afterBuildTicks: (sc: any) => { sc.ticks = p.xTicks.map((v) => ({ value: v })); },
            ticks: { font: { family: FONT, size: 13 }, color: '#000', padding: 3, maxRotation: 0, autoSkip: false, callback: (v: any) => String(v) },
            grid: { display: false, drawTicks: false },
            border: { display: false },
          },
          y: {
            type: 'linear',
            min: p.yRange[0],
            max: p.yRange[1],
            afterFit: (sc: any) => { sc.width = al - cx; },
            afterBuildTicks: (sc: any) => { sc.ticks = p.yTicks.map((v) => ({ value: v })); },
            ticks: { font: { family: FONT, size: 13 }, color: '#000', padding: 3, autoSkip: false, callback: (v: any) => Number(v).toFixed(p.yDec) },
            grid: { display: false, drawTicks: false },
            border: { display: false },
          },
        },
      } as any,
      plugins: [makeDecor(p)],
    });
    return () => chart.destroy();
  }, [p]);
  const [cx, cy, cw, ch] = p.canvas;
  return (
    <canvas
      ref={ref}
      width={cw}
      height={ch}
      style={{ position: 'absolute', left: cx, top: cy, width: cw, height: ch }}
    />
  );
}

export default function App() {
  return (
    <div style={{ position: 'fixed', left: 0, top: 0, width: 1316, height: 673, background: '#fff', overflow: 'hidden' }}>
      {panels.map((p, i) => (
        <PanelChart key={i} p={p} />
      ))}
    </div>
  );
}
